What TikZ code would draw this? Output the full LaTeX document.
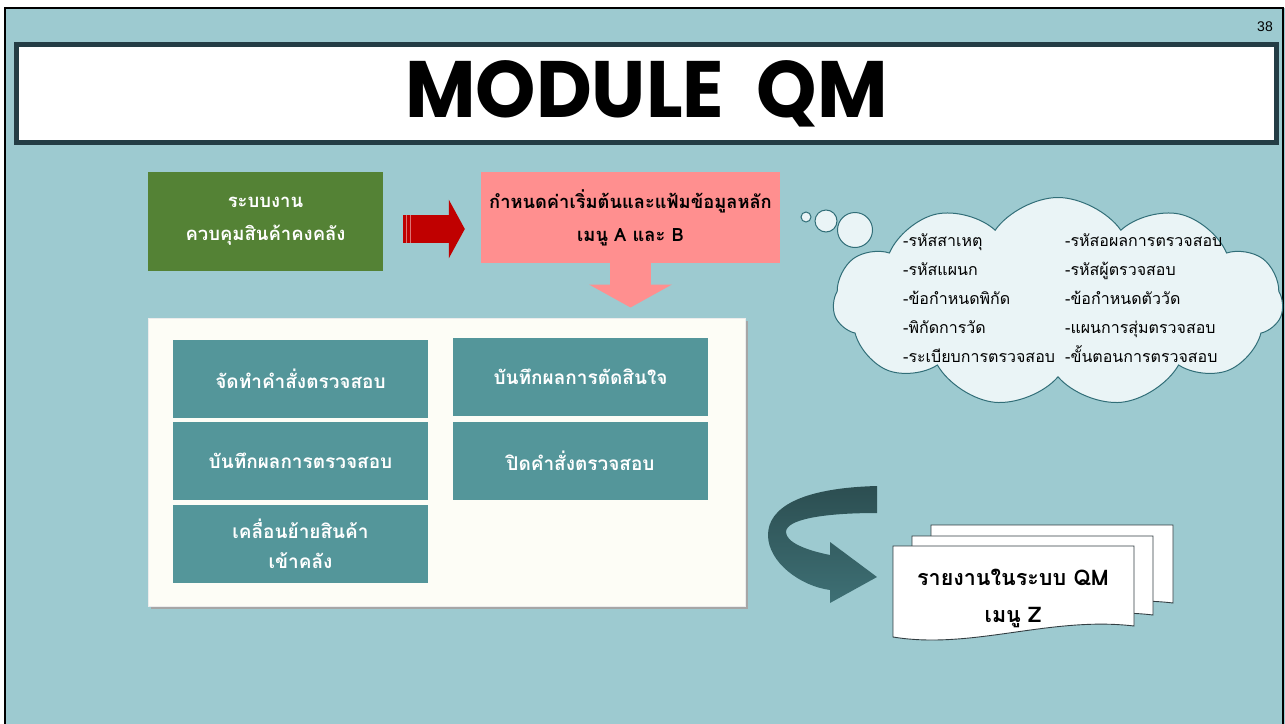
\documentclass[tikz,border=0pt]{standalone}
\usepackage{fontspec}
\setmainfont{Liberation Sans}
\newfontfamily\thaifont[Script=Thai]{Loma}
\newfontfamily\titlefont{Poppins}
\usetikzlibrary{shapes.symbols, arrows.meta, calc}

\definecolor{slidebg}{RGB}{157,202,208}
\definecolor{titleborder}{RGB}{36,61,69}
\definecolor{sysgreen}{RGB}{84,130,53}
\definecolor{arrowred}{RGB}{192,0,0}
\definecolor{setuppink}{RGB}{255,143,143}
\definecolor{boxteal}{RGB}{84,150,154}
\definecolor{panelcream}{RGB}{253,253,246}
\definecolor{cloudfill}{RGB}{234,244,246}
\definecolor{cloudline}{RGB}{49,110,120}
\definecolor{turndark}{RGB}{44,78,81}
\definecolor{turnlight}{RGB}{62,112,117}
\definecolor{docline}{RGB}{50,62,66}

\begin{document}
\begin{tikzpicture}[x=1pt, y=-1pt,
    menubox/.style={rectangle, fill=boxteal, text=white, minimum width=255pt, minimum height=78pt,
      align=center, font=\thaifont\bfseries\fontsize{19}{30}\selectfont},
    cloudtext/.style={anchor=base west, inner sep=0pt, font=\thaifont\fontsize{16}{18}\selectfont},
    bubble/.style={circle, draw=cloudline, fill=cloudfill, line width=1pt, inner sep=0pt},
    docpage/.style={fill=white, draw=docline, line width=0.9pt}]
    \useasboundingbox (0,0) rectangle (1285,723);
    \clip (0,0) rectangle (1285,723);

    % スライド
    \fill[slidebg] (5,8) rectangle (1290,730);
    \draw[black, line width=2.5pt] (5,730) -- (5,8) -- (1283,8) -- (1283,730);
    \node[font=\fontsize{14}{14}\selectfont] (pageno) at (1265,27) {38};

    % タイトル
    \node[draw=titleborder, line width=5pt, fill=white, minimum width=1260pt, minimum height=98pt,
      font=\titlefont\bfseries\fontsize{80}{80}\selectfont] (titlebar) at (646.5,93.5)
      {\scalebox{0.96}[1]{MODULE\ \ QM}};

    % ノード
    \node[fill=sysgreen, text=white, minimum width=235pt, minimum height=99pt, align=center,
      font=\thaifont\bfseries\fontsize{18.5}{33}\selectfont] (system) at (265.5,221.5)
      {ระบบงาน\\ควบคุมสินค้าคงคลัง};
    \node[fill=setuppink, minimum width=299pt, minimum height=91pt, align=center,
      font=\thaifont\bfseries\fontsize{18.3}{33}\selectfont] (setup) at (630.5,217.5)
      {กำหนดค่าเริ่มต้นและแฟ้มข้อมูลหลัก\\เมนู A และ B};

    \fill[gray!70] (151,321) rectangle (748,609);
    \node[fill=panelcream, draw=white!85!gray, line width=1pt, minimum width=597pt, minimum height=288pt]
      (panel) at (446.5,462) {};

    \node[menubox] (order) at (300.5,379) {จัดทำคำสั่งตรวจสอบ};
    \node[menubox] (decision) at (580.5,377) {บันทึกผลการตัดสินใจ};
    \node[menubox] (result) at (300.5,461) {บันทึกผลการตรวจสอบ};
    \node[menubox] (close) at (580.5,461) {ปิดคำสั่งตรวจสอบ};
    \node[menubox] (move) at (300.5,544) {เคลื่อนย้ายสินค้า\\เข้าคลัง};

    % エッジ
    \draw[arrowred, line width=28pt, -{Triangle[length=16pt, width=58pt]}]
      ([xshift=20pt, yshift=-7.5pt]system.east) -- ([xshift=-16pt, yshift=-11.5pt]setup.west);
    \foreach \dx in {3,7}
      \draw[arrowred!55!white, line width=1.2pt] ($(system.east)+(20+\dx,-6.5)$) -- ++(0,28);
    \draw[setuppink, line width=41pt, -{Triangle[length=23pt, width=82pt]}]
      (setup.south) -- ([yshift=10pt]setup.south |- panel.north);

    % 雲
    \node[cloud, cloud puffs=11, cloud puff arc=110, aspect=2.15, draw=cloudline, fill=cloudfill,
      line width=1pt, minimum width=450pt, minimum height=209pt, inner sep=0pt] (memo) at (1058,302) {};
    \node[bubble, minimum size=10pt] (b1) at (806,217) {};
    \node[bubble, minimum size=22pt] (b2) at (826,221) {};
    \node[bubble, minimum size=35pt] (b3) at (855,230) {};

    \foreach \txt [count=\i] in {-รหัสสาเหตุ, -รหัสแผนก, -ข้อกำหนดพิกัด, -พิกัดการวัด, -ระเบียบการตรวจสอบ}
      \node[cloudtext] (cl\i) at (903,217+29*\i) {\txt};
    \foreach \txt [count=\i] in {-รหัสอผลการตรวจสอบ, -รหัสผู้ตรวจสอบ, -ข้อกำหนดตัววัด, -แผนการสุ่มตรวจสอบ, -ขั้นตอนการตรวจสอบ}
      \node[cloudtext] (cr\i) at (1065,217+29*\i) {\txt};

    % 曲がった矢印
    \shade[top color=turndark, bottom color=turnlight]
      (877,486) .. controls (800,488) and (768,508) .. (768,535)
      .. controls (768,562) and (800,586) .. (830,590)
      -- (830,603) -- (877,577) -- (830,542) -- (830,555)
      .. controls (805,550) and (786,542) .. (786,532)
      .. controls (786,520) and (820,513) .. (877,513) -- cycle;

    % 報告書
    \draw[docpage] (931,525) -- (1173,525) -- (1173,603)
      .. controls (1090,593) and (1010,625) .. (931,612) -- cycle;
    \draw[docpage] (912,536) -- (1153,536) -- (1153,615)
      .. controls (1070,605) and (990,637) .. (912,624) -- cycle;
    \draw[docpage] (893,546) -- (1134,546) -- (1134,626)
      .. controls (1050,616) and (972,650) .. (893,637) -- cycle;
    \node[align=center, font=\thaifont\bfseries\fontsize{21.5}{37}\selectfont] (report) at (1013,598)
      {รายงานในระบบ QM\\เมนู Z};
\end{tikzpicture}
\end{document}
